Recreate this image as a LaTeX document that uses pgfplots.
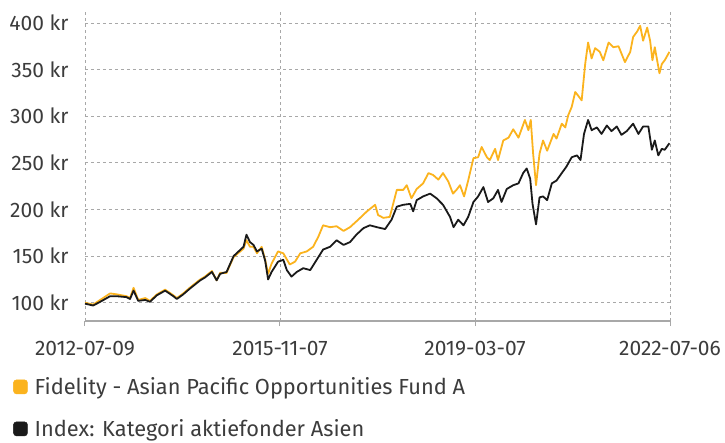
\documentclass[border=0pt]{standalone}
\usepackage{fontspec}
\setmainfont{Fira Sans}
\usepackage{pgfplots}
\pgfplotsset{compat=1.18}
\definecolor{fundorange}{HTML}{FBB31E}
\definecolor{indexblack}{HTML}{1A1A1A}
\definecolor{labelgray}{HTML}{3C3C3C}
\definecolor{gridgray}{HTML}{A8A8A8}
\newcommand\chartfont{\fontsize{21bp}{24bp}\selectfont}
\newcommand\legendfont{\fontsize{21.8bp}{25bp}\selectfont}
\begin{document}
\begin{tikzpicture}
\useasboundingbox (-85bp,-122bp) rectangle (640bp,321bp);
\begin{axis}[
  scale only axis, width=585bp, height=311bp,
  at={(0,0)}, anchor=south west,
  xmin=0, xmax=10, ymin=80.4, ymax=413.9,
  axis x line=bottom, axis y line=left,
  x axis line style={-, draw=gridgray, line width=1.2bp},
  y axis line style={draw=none},
  xtick={0,3.3333,6.6667,10},
  xticklabels={2012-07-09,2015-11-07,2019-03-07,2022-07-06},
  ytick={100,150,200,250,300,350,400},
  yticklabels={100 kr,150 kr,200 kr,250 kr,300 kr,350 kr,400 kr},
  tick align=outside, major tick length=5bp,
  xtick style={draw=gridgray, line width=1bp},
  ytick style={draw=none},
  grid=major,
  major grid style={draw=gridgray, line width=0.9bp, dash pattern=on 3bp off 3bp},
  tick label style={font=\chartfont, text=labelgray},
  yticklabel style={xshift=-8bp},
  xticklabel style={yshift=-12bp},
  legend cell align=left,
  legend style={at={(axis description cs:-0.123,-0.175)}, anchor=north west,
    draw=none, fill=none, font=\legendfont, text=labelgray, row sep=19.5bp,
    inner sep=0pt, /tikz/every odd column/.append style={column sep=5bp}},
  legend image code/.code={\draw[#1, fill, line width=0.5bp, rounded corners=3bp] (0bp,-7bp) rectangle (14bp,7bp);},
]
\addplot[fundorange, line width=1.8bp, line join=round] coordinates {
(0.00,100) (0.14,98) (0.26,103) (0.43,110) (0.54,109) (0.71,107) (0.77,105) (0.83,116) (0.91,103)
(1.03,105) (1.11,102) (1.23,109) (1.37,114) (1.51,108) (1.57,105) (1.68,110) (1.79,116) (1.97,125)
(2.05,128) (2.17,134) (2.25,124) (2.31,132) (2.42,132) (2.54,149) (2.71,158) (2.76,167) (2.82,160)
(2.88,160) (2.94,153) (3.02,160) (3.08,146) (3.13,131) (3.19,142) (3.30,155) (3.39,153) (3.50,141)
(3.59,144) (3.68,153) (3.79,155) (3.90,160) (3.99,171) (4.07,183) (4.19,181) (4.30,182) (4.42,177)
(4.53,181) (4.67,189) (4.82,198) (4.96,205) (5.01,194) (5.10,191) (5.21,192) (5.33,221) (5.44,221)
(5.50,226) (5.58,212) (5.67,222) (5.78,228) (5.87,239) (5.95,237) (6.04,232) (6.12,239) (6.21,230)
(6.29,217) (6.35,221) (6.41,226) (6.48,214) (6.55,231) (6.64,255) (6.72,256) (6.78,267) (6.87,256)
(6.92,253) (7.01,265) (7.06,253) (7.15,274) (7.24,277) (7.32,286) (7.41,277) (7.52,296) (7.58,285)
(7.62,296) (7.66,260) (7.71,226) (7.77,260) (7.83,274) (7.90,263) (8.01,281) (8.06,276) (8.15,292)
(8.21,288) (8.26,301) (8.32,310) (8.38,326) (8.43,322) (8.49,317) (8.55,356) (8.60,379) (8.66,362)
(8.72,373) (8.80,369) (8.86,360) (8.95,379) (9.03,374) (9.12,375) (9.23,358) (9.32,369) (9.37,385)
(9.44,391) (9.49,397) (9.54,381) (9.61,395) (9.66,381) (9.70,360) (9.74,374) (9.82,346) (9.86,356)
(9.91,360) (9.99,369)
};
\addlegendentry{Fidelity - Asian Pacific Opportunities Fund A}
\addplot[indexblack, line width=1.8bp, line join=round] coordinates {
(0.00,99) (0.14,97) (0.26,101) (0.43,107) (0.54,107) (0.71,106) (0.77,104) (0.83,113) (0.91,102)
(1.03,103) (1.11,101) (1.23,108) (1.37,113) (1.51,107) (1.57,104) (1.68,109) (1.79,115) (1.97,124)
(2.05,127) (2.17,133) (2.25,124) (2.31,131) (2.42,133) (2.54,150) (2.71,160) (2.76,173) (2.82,165)
(2.88,162) (2.94,155) (3.02,158) (3.08,145) (3.13,125) (3.19,133) (3.30,144) (3.39,146) (3.45,135)
(3.53,128) (3.62,133) (3.73,137) (3.85,135) (3.96,146) (4.07,157) (4.19,160) (4.30,167) (4.42,162)
(4.53,165) (4.64,173) (4.76,180) (4.87,183) (4.99,181) (5.13,179) (5.24,189) (5.33,203) (5.44,205)
(5.56,206) (5.61,198) (5.67,210) (5.78,214) (5.90,217) (6.01,212) (6.12,205) (6.24,192) (6.30,181)
(6.38,189) (6.47,183) (6.55,192) (6.64,208) (6.72,214) (6.81,224) (6.89,208) (6.98,212) (7.06,221)
(7.12,208) (7.21,222) (7.32,226) (7.41,228) (7.49,239) (7.55,244) (7.61,233) (7.65,206) (7.71,184)
(7.77,213) (7.83,214) (7.90,210) (7.98,228) (8.06,231) (8.15,239) (8.23,246) (8.32,256) (8.41,258)
(8.47,253) (8.53,281) (8.60,296) (8.66,285) (8.75,288) (8.83,281) (8.92,290) (9.00,284) (9.09,289)
(9.17,280) (9.26,284) (9.37,292) (9.46,281) (9.54,289) (9.63,289) (9.69,264) (9.74,274) (9.80,258)
(9.86,265) (9.91,264) (9.99,271)
};
\addlegendentry{Index: Kategori aktiefonder Asien}
\end{axis}
\end{tikzpicture}
\end{document}
